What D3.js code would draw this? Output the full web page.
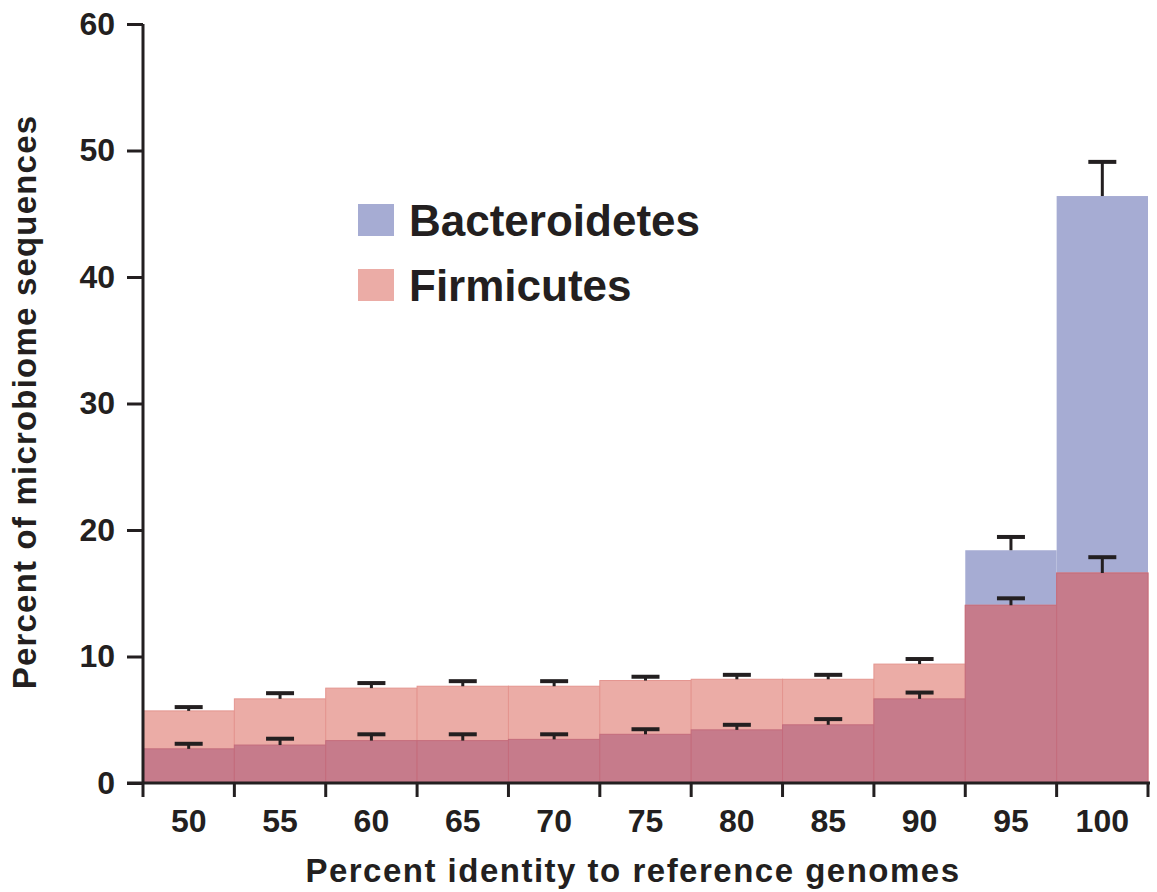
<!DOCTYPE html>
<html>
<head>
<meta charset="utf-8">
<script src="https://cdn.jsdelivr.net/npm/d3@7"></script>
<style>
  html, body { margin: 0; padding: 0; background: #fff; }
  svg text { font-family: "Liberation Sans", Arial, sans-serif; font-weight: bold; fill: #231F20; }
</style>
</head>
<body>
<svg id="chart" width="1157" height="892"></svg>
<script>
// Percent identity bins
const bins = ["50", "55", "60", "65", "70", "75", "80", "85", "90", "95", "100"];

// Bacteroidetes: mean percent of sequences and upper error
const bacteroidetes    = [2.7, 3.0, 3.35, 3.35, 3.45, 3.85, 4.2, 4.6, 6.65, 18.4, 46.4];
const bacteroidetesErr = [0.4, 0.5, 0.5, 0.5, 0.4, 0.4, 0.4, 0.45, 0.5, 1.05, 2.7];

// Firmicutes: mean percent of sequences and upper error
const firmicutes    = [5.7, 6.65, 7.5, 7.65, 7.65, 8.1, 8.2, 8.2, 9.4, 14.05, 16.6];
const firmicutesErr = [0.3, 0.45, 0.4, 0.4, 0.4, 0.3, 0.35, 0.35, 0.4, 0.55, 1.25];

const yTicks = [0, 10, 20, 30, 40, 50, 60];

const series = ["Bacteroidetes", "Firmicutes"];

const ink = "#231F20";
const blue = "#A6ACD3";
const pink = "#EBACA6";
const overlap = "#C67B8B";

const svg = d3.select("#chart");

const x = d3.scaleBand().domain(bins).range([143, 1148]).padding(0);
const y = d3.scaleLinear().domain([0, 60]).range([783, 24]);

const rows = bins.map((b, i) => ({
  bin: b,
  bac: bacteroidetes[i], bacErr: bacteroidetesErr[i],
  fir: firmicutes[i], firErr: firmicutesErr[i]
}));

// Bars: Bacteroidetes, Firmicutes, then their shared (overlapping) part
const bars = svg.append("g");
bars.selectAll("rect.bac").data(rows).join("rect")
  .attr("class", "bac")
  .attr("x", d => x(d.bin)).attr("width", x.bandwidth())
  .attr("y", d => y(d.bac)).attr("height", d => y(0) - y(d.bac))
  .attr("fill", blue);

bars.selectAll("rect.fir").data(rows).join("rect")
  .attr("class", "fir")
  .attr("x", d => x(d.bin)).attr("width", x.bandwidth())
  .attr("y", d => y(d.fir)).attr("height", d => y(0) - y(d.fir))
  .attr("fill", pink)
  .attr("stroke", "#E4958F").attr("stroke-width", 1);

bars.selectAll("rect.both").data(rows).join("rect")
  .attr("class", "both")
  .attr("x", d => x(d.bin)).attr("width", x.bandwidth())
  .attr("y", d => y(Math.min(d.bac, d.fir)))
  .attr("height", d => y(0) - y(Math.min(d.bac, d.fir)))
  .attr("fill", overlap)
  .attr("stroke", "#C46C7C").attr("stroke-width", 1);

// Upper error bars
const errs = [];
rows.forEach(d => {
  errs.push({ bin: d.bin, v: d.bac, e: d.bacErr });
  errs.push({ bin: d.bin, v: d.fir, e: d.firErr });
});
const eg = svg.append("g").attr("stroke", ink);
eg.selectAll("line.stem").data(errs).join("line")
  .attr("class", "stem")
  .attr("x1", d => x(d.bin) + x.bandwidth() / 2)
  .attr("x2", d => x(d.bin) + x.bandwidth() / 2)
  .attr("y1", d => y(d.v)).attr("y2", d => y(d.v + d.e))
  .attr("stroke-width", 3);
eg.selectAll("line.cap").data(errs).join("line")
  .attr("class", "cap")
  .attr("x1", d => x(d.bin) + x.bandwidth() / 2 - 14)
  .attr("x2", d => x(d.bin) + x.bandwidth() / 2 + 14)
  .attr("y1", d => y(d.v + d.e)).attr("y2", d => y(d.v + d.e))
  .attr("stroke-width", 4);

// Y axis
const yAxis = svg.append("g").attr("transform", "translate(143,0)")
  .call(d3.axisLeft(y).tickValues(yTicks).tickSize(16).tickPadding(12).tickFormat(d3.format("d")));
yAxis.select(".domain").attr("stroke", ink).attr("stroke-width", 3).attr("d", `M0,${y(60)}V${y(0)}`);
yAxis.selectAll(".tick line").attr("stroke", ink).attr("stroke-width", 3);
yAxis.selectAll(".tick text").attr("font-size", 32).attr("fill", ink).attr("font-weight", "bold")
  .attr("font-family", "Liberation Sans, Arial, sans-serif");

// X axis: ticks at bin edges, labels at bin centres
const edges = bins.map(b => x(b)).concat([x(bins[bins.length - 1]) + x.bandwidth()]);
const xAxisG = svg.append("g").attr("transform", `translate(0,${y(0)})`);
xAxisG.append("line").attr("x1", 127).attr("x2", 1150).attr("y1", 0).attr("y2", 0)
  .attr("stroke", ink).attr("stroke-width", 3);
xAxisG.selectAll("line.tk").data(edges).join("line")
  .attr("class", "tk")
  .attr("x1", d => d).attr("x2", d => d).attr("y1", 0).attr("y2", 14)
  .attr("stroke", ink).attr("stroke-width", 3);
xAxisG.selectAll("text").data(bins).join("text")
  .attr("x", d => x(d) + x.bandwidth() / 2).attr("y", 49)
  .attr("text-anchor", "middle").attr("font-size", 32)
  .text(d => d);

// Axis titles
svg.append("text")
  .attr("x", 633).attr("y", 882).attr("text-anchor", "middle").attr("font-size", 33)
  .attr("letter-spacing", 1.5)
  .text("Percent identity to reference genomes");
svg.append("text")
  .attr("transform", "translate(36,402) rotate(-90)")
  .attr("text-anchor", "middle").attr("font-size", 33)
  .attr("letter-spacing", 1.2)
  .text("Percent of microbiome sequences");

// Legend
const legend = svg.append("g").attr("transform", "translate(358,204)");
const lcolors = [blue, pink];
series.forEach((s, i) => {
  const g = legend.append("g").attr("transform", `translate(0,${i * 65})`);
  g.append("rect").attr("width", 36).attr("height", 32).attr("fill", lcolors[i]);
  g.append("text").attr("x", 51).attr("y", 32).attr("font-size", 44).text(s);
});
</script>
</body>
</html>
